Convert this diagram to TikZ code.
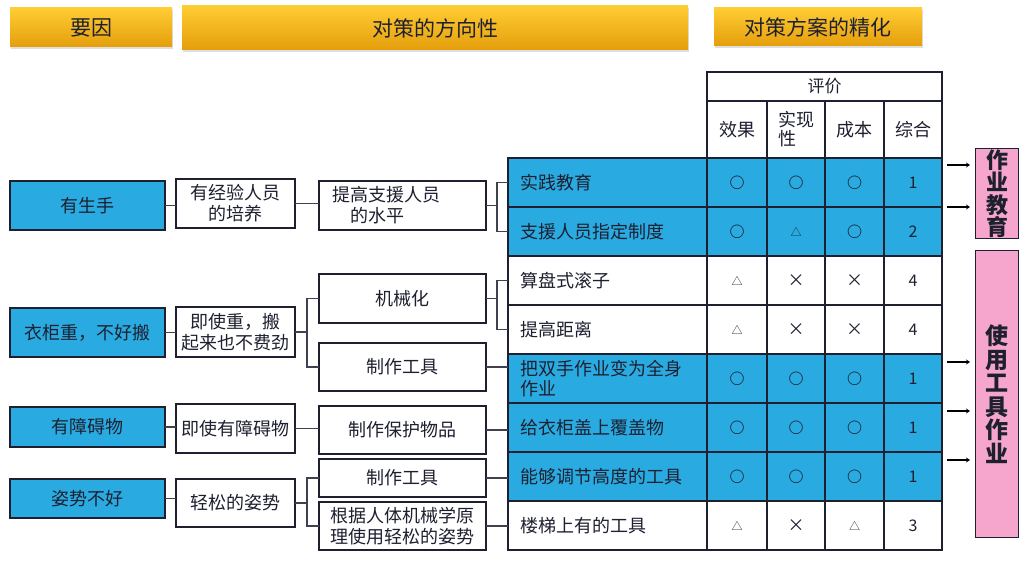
\documentclass[tikz,border=0pt]{standalone}
\usepackage{fontspec}
\setmainfont{Noto Sans CJK SC}
\usetikzlibrary{arrows.meta,shadows}
\definecolor{cause}{RGB}{41,171,226}
\definecolor{gold1}{RGB}{255,204,51}
\definecolor{gold2}{RGB}{228,158,12}
\definecolor{pinkbox}{RGB}{246,166,204}
\definecolor{ink}{RGB}{30,32,48}
\newcommand\markO{{\fontsize{15}{15}\selectfont\bfseries ○}}
\newcommand\markT{{\fontsize{11}{11}\selectfont △}}
\newcommand\markX{{\fontsize{17}{17}\selectfont ×}}

\begin{document}
\begin{tikzpicture}[x=1pt,y=-1pt,font=\fontsize{18}{21}\selectfont,text=ink,
  box/.style={draw=ink,line width=1.2pt,fill=white,align=center,inner sep=0pt,outer sep=0pt},
  causebox/.style={box,fill=cause,minimum width=155pt},
  midbox/.style={box,minimum width=119pt},
  waybox/.style={box,minimum width=167pt},
  headbar/.style={top color=gold1,bottom color=gold2,draw=none,minimum height=39pt,inner sep=0pt,
    font=\fontsize{21}{21}\selectfont,drop shadow={opacity=.25,shadow xshift=1pt,shadow yshift=-2pt}},
  cell/.style={draw=ink,line width=1.2pt,anchor=north west,inner sep=0pt,outer sep=0pt,minimum height=49pt},
  link/.style={draw=ink!85,line width=1.2pt},
  goal/.style={draw=ink,line width=1.2pt,fill=pinkbox,anchor=north west,inner sep=0pt,align=center,
    font=\fontsize{22}{22.5}\selectfont\bfseries},
  pick/.style={line width=2.2pt,-{Stealth[length=4pt,width=5pt]},shorten >=5pt}]
\fill[white] (0,0) rectangle (1030,564);
\useasboundingbox (0,0) rectangle (1030,564);

\node[headbar,minimum width=162pt] (h1) at (91,27.5) {要因};
\node[headbar,minimum width=506pt,minimum height=44pt] (h2) at (435,28) {对策的方向性};
\node[headbar,minimum width=208pt,minimum height=38pt] (h3) at (818,27) {对策方案的精化};

\node[cell,minimum width=235pt,minimum height=29pt,font=\fontsize{17}{17}\selectfont] (eval) at (707,72) {评价};
\node[cell,minimum width=60pt,minimum height=57pt] (k1) at (707,101) {效果};
\node[cell,minimum width=58pt,minimum height=57pt,align=left,font=\fontsize{18}{19}\selectfont] (k2) at (767,101) {实现\\性};
\node[cell,minimum width=59pt,minimum height=57pt] (k3) at (825,101) {成本};
\node[cell,minimum width=58pt,minimum height=57pt] (k4) at (884,101) {综合};

\foreach \i/\fc/\txt/\a/\b/\c/\d in {
  1/cause/实践教育/\markO/\markO/\markO/1,
  2/cause/支援人员指定制度/\markO/\markT/\markO/2,
  3/white/算盘式滚子/\markT/\markX/\markX/4,
  4/white/提高距离/\markT/\markX/\markX/4,
  5/cause/把双手作业变为全身\\作业/\markO/\markO/\markO/1,
  6/cause/给衣柜盖上覆盖物/\markO/\markO/\markO/1,
  7/cause/能够调节高度的工具/\markO/\markO/\markO/1,
  8/white/楼梯上有的工具/\markT/\markX/\markT/3}{
  \node[cell,fill=\fc,minimum width=199pt,text width=175pt,inner xsep=12pt,align=left,
    font=\fontsize{18}{20}\selectfont] (r\i) at (508,{109+49*\i}) {\txt};
  \node[cell,fill=\fc,minimum width=60pt] (r\i-a) at (707,{109+49*\i}) {\a};
  \node[cell,fill=\fc,minimum width=58pt] (r\i-b) at (767,{109+49*\i}) {\b};
  \node[cell,fill=\fc,minimum width=59pt] (r\i-c) at (825,{109+49*\i}) {\c};
  \node[cell,fill=\fc,minimum width=58pt,font=\fontsize{16}{16}\selectfont] (r\i-d) at (884,{109+49*\i}) {\d};
}

\node[goal,minimum width=43pt,minimum height=90pt] (g1) at (975,148) {作\\业\\教\\育};
\node[goal,minimum width=43pt,minimum height=287pt,font=\fontsize{23}{23.5}\selectfont\bfseries] (g2) at (975,250) {使\\用\\工\\具\\作\\业};
\foreach \y/\g [count=\n] in {165/g1,207/g1,362/g2,411/g2,460/g2}{
  \coordinate (p\n) at (947,\y);
  \draw[pick] (p\n) -- (p\n -| \g.west);
}

\node[causebox,minimum height=49pt] (c1) at (87.5,205.5) {有生手};
\node[causebox,minimum height=49pt] (c2) at (87.5,332.5) {衣柜重，不好搬};
\node[causebox,minimum height=40pt] (c3) at (87.5,427) {有障碍物};
\node[causebox,minimum height=39pt] (c4) at (87.5,498.5) {姿势不好};

\node[midbox,minimum height=49pt] (s1) at (235.5,203.5) {有经验人员\\的培养};
\node[midbox,minimum height=50pt] (s2) at (235.5,332) {即使重，搬\\起来也不费劲};
\node[midbox,minimum height=49pt] (s3) at (235.5,428.5) {即使有障碍物};
\node[midbox,minimum height=48pt] (s4) at (235.5,503) {轻松的姿势};

\node[waybox,minimum height=49pt,text width=140pt,align=left] (t1) at (402.5,205.5) {提高支援人员\\\hspace*{1em}的水平};
\node[waybox,minimum height=49pt] (t2) at (402.5,298.5) {机械化};
\node[waybox,minimum height=48pt] (t3) at (402.5,367) {制作工具};
\node[waybox,minimum height=48pt] (t4) at (402.5,430) {制作保护物品};
\node[waybox,minimum height=38pt] (t5) at (402.5,478) {制作工具};
\node[waybox,minimum height=48pt] (t6) at (402.5,526) {根据人体机械学原\\理使用轻松的姿势};

\draw[link] (c1.east) -- (c1.east -| s1.west);
\draw[link] (s1.east) -- (s1.east -| t1.west);
\draw[link] (c2.east) -- (c2.east -| s2.west);
\draw[link] (c3.east) -- (c3.east -| s3.west);
\draw[link] (s3.east) -- (s3.east -| t4.west);
\draw[link] (c4.east) -- (c4.east -| s4.west);
\draw[link] (s2.east) -- ++(12,0) coordinate (f1) (t2.west) -| (f1) |- (t3.west);
\draw[link] (s4.east) -- ++(12,0) coordinate (f4) (t5.west) -| (f4) |- (t6.west);
\draw[link] (t1.east) -- ++(11,0) coordinate (f2) (r1.west) -| (f2) |- (r2.west);
\draw[link] (t2.east) -- ++(11,0) coordinate (f3) (r3.west) -| (f3) |- (r4.west);
\draw[link] (t3.east) -- (t3.east -| r5.west);
\draw[link] (t4.east) -- (t4.east -| r6.west);
\draw[link] (t5.east) -- (t5.east -| r7.west);
\draw[link] (t6.east) -- (t6.east -| r8.west);
\end{tikzpicture}
\end{document}
